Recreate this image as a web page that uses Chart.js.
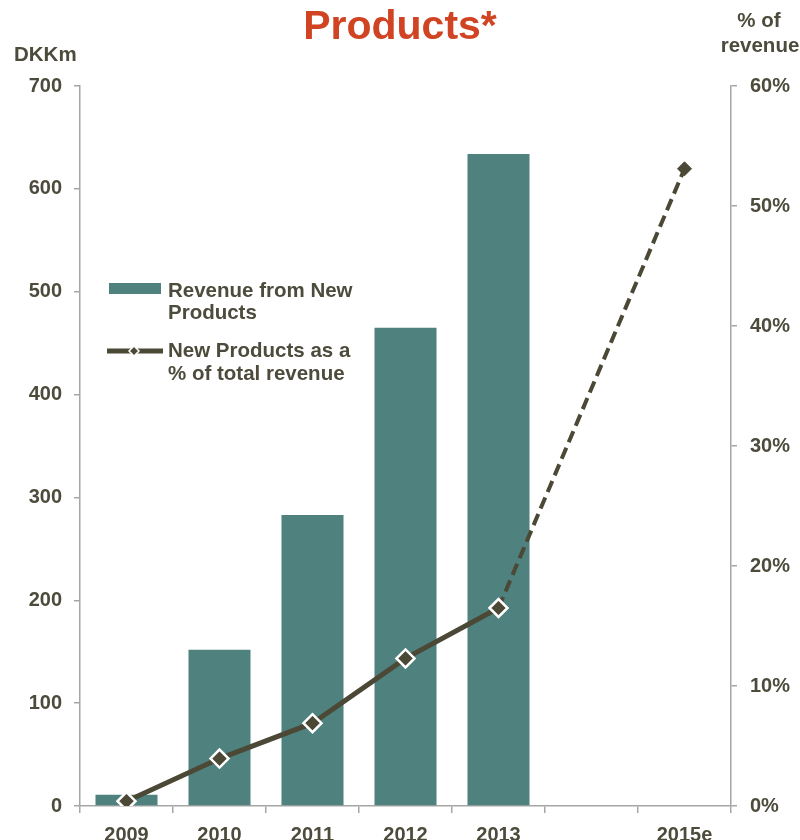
<!DOCTYPE html>
<html>
<head>
<meta charset="utf-8">
<script src="https://cdn.jsdelivr.net/npm/chart.js@4/dist/chart.umd.min.js"></script>
<style>
  html, body { margin: 0; padding: 0; background: #ffffff; }
  #wrap { width: 800px; height: 840px; }
</style>
</head>
<body>
<div id="wrap"><canvas id="c" width="800" height="840"></canvas></div>
<script>
// ---- Data ----
const categories = ['2009', '2010', '2011', '2012', '2013', '', '2015e'];
const revenueNewProducts = [11, 152, 283, 465, 634, null, null];          // DKKm
const shareOfRevenue = [0.4, 3.95, 6.9, 12.3, 16.5, null, 53.1];          // % of total revenue
const leftTicks = [0, 700, 100];   // min, max, step
const rightTicks = [0, 60, 10];    // min, max, step
const titleText = 'Products*';
const leftAxisTitle = ['DKKm'];
const rightAxisTitle = ['% of', 'revenue'];
const legendBarLines = ['Revenue from New', 'Products'];
const legendLineLines = ['New Products as a', '% of total revenue'];

// ---- Styles ----
const TEXT = '#4D4B3B';
const BAR = '#4F827E';
const LINE = '#4B4836';
const AXIS = '#A6A6A6';
const TITLE = '#D04423';
const FONT = "'Liberation Sans', Arial, sans-serif";

const decorPlugin = {
  id: 'decor',
  afterDraw(chart) {
    const ctx = chart.ctx;
    ctx.save();
    // Title
    ctx.fillStyle = TITLE;
    ctx.font = 'bold 41px ' + FONT;
    ctx.textAlign = 'center';
    ctx.textBaseline = 'alphabetic';
    ctx.fillText(titleText, 400, 39);
    // Axis titles
    ctx.fillStyle = TEXT;
    ctx.font = 'bold 20.5px ' + FONT;
    ctx.textAlign = 'left';
    ctx.fillText(leftAxisTitle[0], 14, 61);
    ctx.textAlign = 'center';
    ctx.fillText(rightAxisTitle[0], 759, 27);
    ctx.fillText(rightAxisTitle[1], 760, 51.5);

    // Legend
    ctx.fillStyle = BAR;
    ctx.fillRect(109, 283, 52, 11);
    ctx.strokeStyle = LINE;
    ctx.lineWidth = 5;
    ctx.beginPath();
    ctx.moveTo(107, 351);
    ctx.lineTo(163, 351);
    ctx.stroke();
    // small diamond marker in legend
    ctx.beginPath();
    ctx.moveTo(134, 346); ctx.lineTo(139, 351); ctx.lineTo(134, 356); ctx.lineTo(129, 351); ctx.closePath();
    ctx.fillStyle = LINE;
    ctx.fill();
    ctx.strokeStyle = '#ffffff';
    ctx.lineWidth = 1.5;
    ctx.stroke();

    ctx.fillStyle = TEXT;
    ctx.font = 'bold 20.5px ' + FONT;
    ctx.textAlign = 'left';
    ctx.fillText(legendBarLines[0], 168, 297);
    ctx.fillText(legendBarLines[1], 168, 319);
    ctx.fillText(legendLineLines[0], 168, 357);
    ctx.fillText(legendLineLines[1], 168, 380);
    ctx.restore();
  }
};

const tickFont = { family: FONT, size: 20, weight: 'bold' };

new Chart(document.getElementById('c'), {
  data: {
    labels: categories,
    datasets: [
      {
        type: 'line',
        label: legendLineLines.join(' '),
        data: shareOfRevenue,
        yAxisID: 'y1',
        order: 0,
        borderColor: LINE,
        borderWidth: 5,
        tension: 0,
        spanGaps: true,
        fill: false,
        pointStyle: 'rectRot',
        pointRadius: [9, 9, 9, 9, 9, 0, 7],
        pointBackgroundColor: LINE,
        pointBorderColor: ['#ffffff', '#ffffff', '#ffffff', '#ffffff', '#ffffff', LINE, LINE],
        pointBorderWidth: [2.5, 2.5, 2.5, 2.5, 2.5, 1, 1],
        segment: {
          borderDash: c => (c.p1DataIndex === 6 ? [12, 6] : undefined),
          borderWidth: c => (c.p1DataIndex === 6 ? 4 : 5)
        }
      },
      {
        type: 'bar',
        label: legendBarLines.join(' '),
        data: revenueNewProducts,
        yAxisID: 'y',
        order: 1,
        backgroundColor: BAR,
        borderWidth: 0,
        barPercentage: 0.667,
        categoryPercentage: 1.0
      }
    ]
  },
  options: {
    responsive: false,
    animation: false,
    events: [],
    layout: { padding: { top: 86, left: 0, right: 0, bottom: 0 } },
    plugins: {
      legend: { display: false },
      title: { display: false },
      tooltip: { enabled: false }
    },
    scales: {
      x: {
        type: 'category',
        offset: true,
        grid: { display: true, offset: true, drawOnChartArea: false, drawTicks: true, tickLength: 7, color: AXIS, lineWidth: 1.5 },
        border: { display: true, color: AXIS, width: 1.5 },
        ticks: { color: TEXT, font: tickFont, padding: 10, maxRotation: 0, autoSkip: false },
        afterFit(scale) { scale.height = 34; }
      },
      y: {
        position: 'left',
        min: leftTicks[0], max: leftTicks[1],
        grid: { display: true, drawOnChartArea: false, drawTicks: true, tickLength: 6, color: AXIS, lineWidth: 1.5 },
        border: { display: true, color: AXIS, width: 1.5 },
        ticks: { stepSize: leftTicks[2], color: TEXT, font: tickFont, padding: 12 },
        afterFit(scale) { scale.width = 80; }
      },
      y1: {
        position: 'right',
        min: rightTicks[0], max: rightTicks[1],
        grid: { display: true, drawOnChartArea: false, drawTicks: true, tickLength: 6, color: AXIS, lineWidth: 1.5 },
        border: { display: true, color: AXIS, width: 1.5 },
        ticks: { stepSize: rightTicks[2], color: TEXT, font: tickFont, padding: 13, callback: v => v + '%' },
        afterFit(scale) { scale.width = 69; }
      }
    }
  },
  plugins: [decorPlugin]
});
</script>
</body>
</html>
